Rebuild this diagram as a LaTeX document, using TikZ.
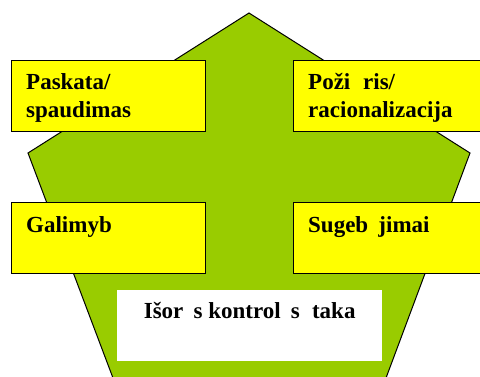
\documentclass[tikz,border=0pt]{standalone}
\usepackage{fontspec}
\setmainfont{Liberation Serif}
\usetikzlibrary{calc}
\definecolor{pentgreen}{HTML}{99CC00}
\definecolor{boxyellow}{HTML}{FFFF00}
\tikzset{
  ybox/.style={draw=black, line width=1pt, fill=boxyellow, minimum width=194pt, minimum height=71pt, inner sep=0pt, anchor=north west},
  wbox/.style={fill=white, minimum width=265pt, minimum height=71pt, inner sep=0pt, anchor=north west},
  lbl/.style={font=\fontsize{23}{28}\selectfont\bfseries, align=left, inner sep=0pt, anchor=base west},
}
\begin{document}
\begin{tikzpicture}[x=1pt,y=-1pt]
\useasboundingbox (0,0) rectangle (480,376);
\clip (0,0) rectangle (480,376);
\fill[white] (0,0) rectangle (480,376);
% pentagon
\draw[fill=pentgreen, line width=1pt, line join=miter]
  (249,13) coordinate (top) -- (470,153) coordinate (pr) -- (386,378) coordinate (br)
  -- (113,378) coordinate (bl) -- (28,153) coordinate (pl) -- cycle;
% boxes
\node[ybox] (b1) at (11,60) {};
\node[ybox] (b2) at (293,60) {};
\node[ybox] (b3) at (11,202) {};
\node[ybox] (b4) at (293,202) {};
\node[wbox] (b5) at (117,290) {};
% labels (base anchor = last line's baseline)
\node[lbl] (t1) at ($(b1.north west)+(15,57)$) {Paskata/\\spaudimas};
\node[lbl] (t2) at ($(b2.north west)+(15,57)$) {Poži\phantom{u}ris/\\racionalizacija};
\node[lbl] (t3) at ($(b3.north west)+(15,30)$) {Galimyb\phantom{e}};
\node[lbl] (t4) at ($(b4.north west)+(15,30)$) {Sugeb\phantom{e}jimai};
\node[lbl, anchor=base] (t5) at ($(b5.north)+(0,28)$) {Išor\phantom{e}s kontrol\phantom{e}s \phantom{i}taka};
\end{tikzpicture}
\end{document}
